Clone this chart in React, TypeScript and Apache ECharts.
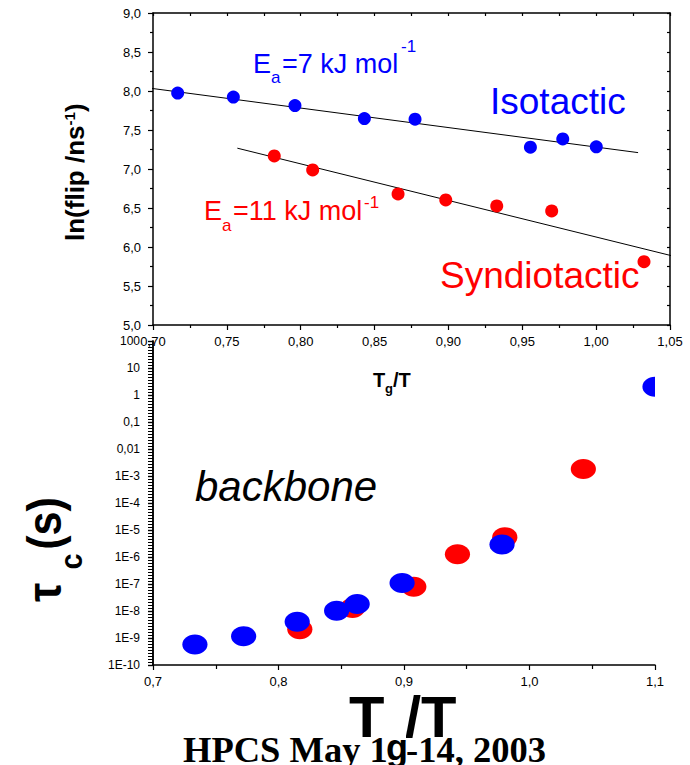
import React, { useEffect, useRef } from 'react';
import * as echarts from 'echarts';

// ---- top panel: ln(flip rate) vs Tg/T ----
const isoX = [0.7167, 0.7544, 0.7961, 0.8431, 0.8774, 0.9555, 0.9774, 1.0001];
const isoY = [7.973, 7.922, 7.814, 7.647, 7.639, 7.28, 7.386, 7.284];
const synX = [0.7821, 0.8081, 0.8659, 0.8982, 0.9327, 0.9699, 1.0324];
const synY = [7.168, 6.988, 6.68, 6.603, 6.526, 6.462, 5.811];
// Arrhenius fit lines (end points)
const isoFitX = [0.6905, 1.0284];
const isoFitY = [8.055, 7.21];
const synFitX = [0.7571, 1.0588];
const synFitY = [7.267, 5.852];

// ---- bottom panel: tau_c (s) vs Tg/T, backbone ----
const bbIsoX = [0.7334, 0.7722, 0.8149, 0.8463, 0.8627, 0.8985, 0.9781, 1.1];
const bbIsoY = [5.8e-10, 1.16e-9, 4.0e-9, 1.03e-8, 1.8e-8, 1.1e-7, 2.9e-6, 2.0];
const bbSynX = [0.817, 0.859, 0.9078, 0.9426, 0.9803, 1.0429];
const bbSynY = [2.1e-9, 1.3e-8, 7.9e-8, 1.26e-6, 5.4e-6, 1.8e-3];

const BLUE = '#0000ff';
const RED = '#ff0000';
const SANS = '"Liberation Sans", Arial, sans-serif';
const SERIF = '"Liberation Serif", "Times New Roman", serif';

const zip = (a: number[], b: number[]) => a.map((v, i) => [v, b[i]]);
const fmt2 = (v: number) => v.toFixed(2).replace('.', ',');
const fmt1 = (v: number) => v.toFixed(1).replace('.', ',');
const fmtLog = (v: number) => {
  const n = Math.round(Math.log10(v));
  if (n >= 0) return String(Math.round(Math.pow(10, n)));
  if (n === -1) return '0,1';
  if (n === -2) return '0,01';
  return '1E-' + -n;
};

const axLine = { show: true, onZero: false, lineStyle: { color: '#000', width: 1.5 } };
const tickStyle = { color: '#000', width: 1.2 };

const txt = (text: string, x: number, y: number, size: number, color: string, extra: any = {}) => ({
  type: 'text',
  x,
  y,
  z: 10,
  style: {
    text,
    fontSize: size,
    fontFamily: SANS,
    fill: color,
    align: 'left',
    verticalAlign: 'middle',
    ...extra,
  },
});

const ellipseItem = (color: string) => (params: any, api: any) => {
  const p = api.coord([api.value(0), api.value(1)]);
  return {
    type: 'ellipse',
    shape: { cx: p[0], cy: p[1], rx: 12.6, ry: 10 },
    style: { fill: color },
  };
};

export default function App() {
  const ref = useRef<HTMLDivElement>(null);
  useEffect(() => {
    if (!ref.current) return;
    const chart = echarts.init(ref.current, null, { renderer: 'svg' });
    const option: any = {
      animation: false,
      backgroundColor: '#fff',
      grid: [
        { left: 153, top: 13, width: 517, height: 312, containLabel: false },
        { left: 153, top: 341, width: 502, height: 324, containLabel: false },
      ],
      xAxis: [
        {
          gridIndex: 0, type: 'value', min: 0.7, max: 1.05, interval: 0.05, position: 'bottom',
          axisLine: axLine,
          axisTick: { show: true, inside: false, length: 5, lineStyle: tickStyle },
          minorTick: { show: true, splitNumber: 2, length: 3, lineStyle: tickStyle },
          axisLabel: { formatter: fmt2, fontSize: 13, color: '#000', fontFamily: SANS, margin: 10 },
          splitLine: { show: false },
        },
        {
          gridIndex: 0, type: 'value', min: 0.7, max: 1.05, interval: 0.025, position: 'top',
          axisLine: axLine,
          axisTick: { show: true, inside: true, length: 3, lineStyle: tickStyle },
          axisLabel: { show: false },
          splitLine: { show: false },
        },
        {
          gridIndex: 1, type: 'value', min: 0.7, max: 1.1, interval: 0.1, position: 'bottom',
          axisLine: axLine,
          axisTick: { show: true, inside: false, length: 5, lineStyle: tickStyle },
          minorTick: { show: true, splitNumber: 2, length: 4, lineStyle: tickStyle },
          axisLabel: { formatter: fmt1, fontSize: 13, color: '#000', fontFamily: SANS, margin: 10 },
          splitLine: { show: false },
        },
      ],
      yAxis: [
        {
          gridIndex: 0, type: 'value', min: 5, max: 9, interval: 0.5, position: 'left',
          axisLine: axLine,
          axisTick: { show: true, inside: false, length: 5, lineStyle: tickStyle },
          minorTick: { show: true, splitNumber: 2, length: 3, lineStyle: tickStyle },
          axisLabel: { formatter: fmt1, fontSize: 13, color: '#000', fontFamily: SANS, margin: 12 },
          splitLine: { show: false },
        },
        {
          gridIndex: 0, type: 'value', min: 5, max: 9, interval: 0.25, position: 'right',
          axisLine: axLine,
          axisTick: { show: true, inside: true, length: 3, lineStyle: tickStyle },
          axisLabel: { show: false },
          splitLine: { show: false },
        },
        {
          // decade scale (log10 exponent) used only to draw the minor ticks of the log axis
          gridIndex: 1, type: 'value', min: -10, max: 2, interval: 1, position: 'left',
          axisLine: { show: true, onZero: false, lineStyle: { color: '#000', width: 1.5 } },
          axisTick: { show: true, inside: false, length: 5, lineStyle: tickStyle },
          axisLabel: { show: false },
          minorTick: { show: true, splitNumber: 9, length: 5, lineStyle: { color: '#000', width: 1 } },
          splitLine: { show: false },
        },
        {
          gridIndex: 1, type: 'log', logBase: 10, min: 1e-10, max: 100, interval: 1, splitNumber: 12,
          position: 'left',
          axisLine: axLine,
          axisTick: { show: true, inside: false, length: 5, lineStyle: tickStyle },
          axisLabel: { formatter: fmtLog, fontSize: 12, color: '#000', fontFamily: SANS, margin: 13 },
          splitLine: { show: false },
        },
      ],
      series: [
        {
          type: 'line', name: 'isoFit', xAxisIndex: 0, yAxisIndex: 0, data: zip(isoFitX, isoFitY),
          symbol: 'none', clip: false, lineStyle: { color: '#000', width: 1 }, z: 1,
        },
        {
          type: 'line', name: 'synFit', xAxisIndex: 0, yAxisIndex: 0, data: zip(synFitX, synFitY),
          symbol: 'none', clip: false, lineStyle: { color: '#000', width: 1 }, z: 1,
        },
        {
          type: 'scatter', name: 'Isotactic', xAxisIndex: 0, yAxisIndex: 0, data: zip(isoX, isoY),
          symbol: 'circle', symbolSize: 13, itemStyle: { color: BLUE, opacity: 1 }, z: 3,
        },
        {
          type: 'scatter', name: 'Syndiotactic', xAxisIndex: 0, yAxisIndex: 0, data: zip(synX, synY),
          symbol: 'circle', symbolSize: 13, itemStyle: { color: RED, opacity: 1 }, z: 3,
        },
        {
          type: 'custom', name: 'bbSyn', xAxisIndex: 2, yAxisIndex: 3, data: zip(bbSynX, bbSynY),
          renderItem: ellipseItem(RED), clip: true, z: 3,
        },
        {
          type: 'custom', name: 'bbIso', xAxisIndex: 2, yAxisIndex: 3, data: zip(bbIsoX, bbIsoY),
          renderItem: ellipseItem(BLUE), clip: true, z: 4,
        },
      ],
      graphic: [
        // Ea = 7 kJ mol-1
        txt('E', 253, 64.3, 27, BLUE),
        txt('a', 271, 77.7, 17, BLUE),
        txt('=7 kJ mol', 282, 64.3, 27, BLUE),
        txt('-1', 401, 46.7, 17, BLUE),
        // Ea = 11 kJ mol-1
        txt('E', 204, 210.9, 27, RED),
        txt('a', 222, 225.4, 17, RED),
        txt('=11 kJ mol', 233, 210.9, 27, RED),
        txt('-1', 364, 202.7, 17, RED),
        txt('Isotactic', 490, 101.5, 37, BLUE),
        txt('Syndiotactic', 440, 275.5, 37, RED),
        txt('backbone', 195, 486, 42, '#000', { fontStyle: 'italic' }),
        // top x title
        txt('T', 373, 379.8, 20, '#000', { fontWeight: 'bold' }),
        txt('g', 385, 388, 13, '#000', { fontWeight: 'bold' }),
        txt('/T', 393, 379.8, 20, '#000', { fontWeight: 'bold' }),
        // top y title (rotated)
        {
          type: 'group', x: 83, y: 241, rotation: Math.PI / 2,
          children: [
            txt('ln(flip /ns', 0, -8, 26, '#000', { fontWeight: 'bold' }),
            txt('-1', 115.6, -13.6, 15, '#000', { fontWeight: 'bold' }),
            txt(')', 129, -8, 26, '#000', { fontWeight: 'bold' }),
          ],
        },
        // bottom y title (rotated)
        {
          type: 'group', x: 60, y: 602, rotation: Math.PI / 2, scaleX: 0.9,
          children: [
            txt('τ', 0, -14.9, 48, '#000', { fontWeight: 'bold' }),
            txt('c', 36, 10, 32, '#000', { fontWeight: 'bold' }),
            txt('(s)', 58, -14.9, 48, '#000', { fontWeight: 'bold' }),
          ],
        },
        // bottom x title
        txt('T', 349, 716, 58, '#000', { fontWeight: 'bold' }),
        txt('/T', 405, 716, 58, '#000', { fontWeight: 'bold' }),
        // footer
        {
          type: 'text', x: 183, y: 749, z: 20,
          style: { text: 'HPCS May 12-14, 2003', fontSize: 36.5, fontWeight: 'bold', fontFamily: SERIF, fill: '#000', align: 'left', verticalAlign: 'middle' },
        },
        { type: 'rect', z: 21, shape: { x: 387, y: 734, width: 19, height: 28 }, style: { fill: '#fff' } },
        { ...txt('g', 386, 747, 36, '#000', { fontWeight: 'bold' }), z: 22 },
      ],
    };
    chart.setOption(option);
    return () => chart.dispose();
  }, []);
  return (
    <div
      ref={ref}
      style={{ position: 'absolute', left: 0, top: 0, width: 690, height: 765, background: '#fff' }}
    />
  );
}
